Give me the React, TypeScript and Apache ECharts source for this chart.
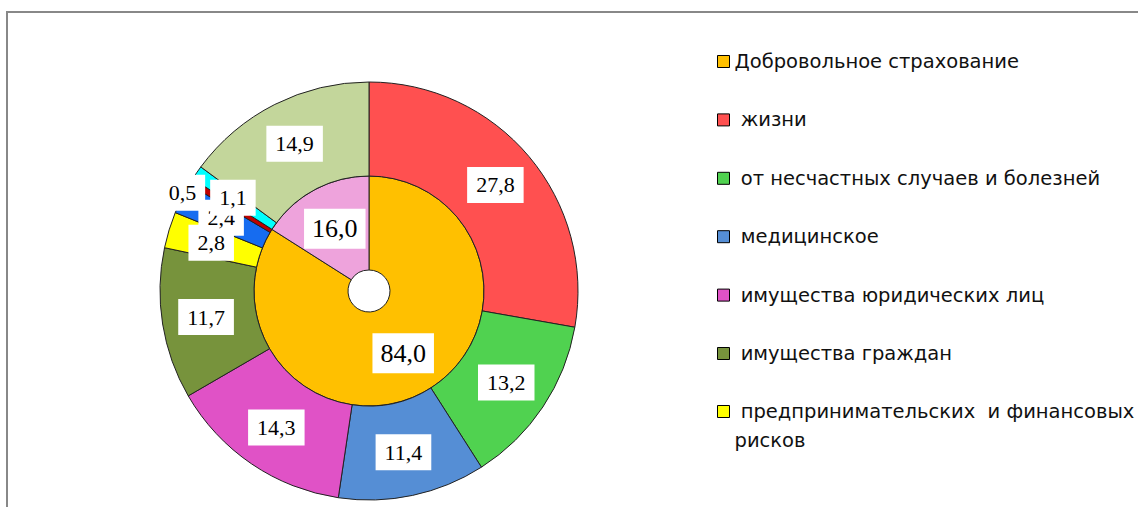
import React, { useEffect, useRef } from "react";
import * as echarts from "echarts";

const innerNames = ["Добровольное страхование", "Обязательное страхование"];
const innerValues = [84.0, 16.0];
const innerColors = ["#ffc000", "#eea3dc"];

const outerNames = [
  "жизни",
  "от несчастных случаев и болезней",
  "медицинское",
  "имущества юридических лиц",
  "имущества граждан",
  "предпринимательских и финансовых рисков",
  "прочие виды 1",
  "прочие виды 2",
  "прочие виды 3",
  "обязательные виды",
];
const outerValues = [27.8, 13.2, 11.4, 14.3, 11.7, 2.8, 2.4, 0.5, 1.1, 14.9];
const outerColors = [
  "#ff5050",
  "#50d250",
  "#558ed5",
  "#e052c6",
  "#77933c",
  "#ffff00",
  "#166cf0",
  "#c00000",
  "#00ffff",
  "#c3d69b",
];

const fmt = (v: number) => v.toFixed(1).replace(".", ",");

export default function App() {
  const ref = useRef<HTMLDivElement>(null);
  useEffect(() => {
    if (!ref.current) return;
    const chart = echarts.init(ref.current, null, { renderer: "svg" });
    const legendText = {
      fontFamily: "DejaVu Sans",
      fontSize: 19.5,
      color: "#111",
    };
    chart.setOption({
      animation: false,
      backgroundColor: "#fff",
      graphic: [
        {
          type: "polyline",
          shape: { points: [[7, 507], [7, 12], [1138, 12]] },
          style: { stroke: "#888", lineWidth: 2, fill: null },
          silent: true,
        },
      ],
      legend: [
        {
          orient: "vertical",
          left: 717,
          top: 51.5,
          padding: 0,
          itemWidth: 12,
          itemHeight: 12,
          itemGap: 38.4,
          icon: "rect",
          selectedMode: false,
          itemStyle: { borderColor: "#000", borderWidth: 1 },
          data: [innerNames[0], ...outerNames.slice(0, 5)],
          formatter: (name: string) => (name === innerNames[0] ? name : " " + name),
          textStyle: { ...legendText, lineHeight: 20 },
        },
        {
          orient: "vertical",
          left: 717,
          top: 368,
          padding: 0,
          itemWidth: 12,
          itemHeight: 12,
          icon: "rect",
          selectedMode: false,
          itemStyle: { borderColor: "#000", borderWidth: 1 },
          data: [outerNames[5]],
          formatter: (name: string) =>
            "\u00a0\n " + name.replace(" и ", "  и ").replace(" рисков", "\nрисков"),
          textStyle: { ...legendText, lineHeight: 29 },
        },
      ],
      series: [
        {
          type: "pie",
          center: [369, 291],
          radius: [21, 115],
          startAngle: 90,
          clockwise: true,
          silent: true,
          emphasis: { disabled: true },
          itemStyle: { borderColor: "#222", borderWidth: 1 },
          label: {
            show: true,
            position: "inside",
            formatter: (p: any) => fmt(p.value),
            fontFamily: "Liberation Serif",
            fontSize: 26,
            lineHeight: 26,
            color: "#000",
            backgroundColor: "#fff",
            padding: [7, 8],
          },
          labelLine: { show: false },
          data: innerNames.map((n, i) => ({
            name: n,
            value: innerValues[i],
            itemStyle: { color: innerColors[i] },
          })),
        },
        {
          type: "pie",
          center: [369, 291],
          radius: [115, 209],
          startAngle: 90,
          clockwise: true,
          silent: true,
          emphasis: { disabled: true },
          itemStyle: { borderColor: "#222", borderWidth: 1 },
          label: {
            show: true,
            position: "inside",
            formatter: (p: any) => fmt(p.value),
            fontFamily: "Liberation Serif",
            fontSize: 22,
            lineHeight: 22,
            color: "#000",
            backgroundColor: "#fff",
            padding: [7, 9],
          },
          labelLine: { show: false },
          labelLayout: (p: any) =>
            p.dataIndex === 7 ? { dx: -46, dy: -12 } : {},
          data: outerNames.map((n, i) => ({
            name: n,
            value: outerValues[i],
            itemStyle: { color: outerColors[i] },
          })),
        },
      ],
    });
    return () => chart.dispose();
  }, []);
  return (
    <div
      ref={ref}
      style={{ position: "absolute", left: 0, top: 0, width: 1138, height: 507 }}
    />
  );
}
